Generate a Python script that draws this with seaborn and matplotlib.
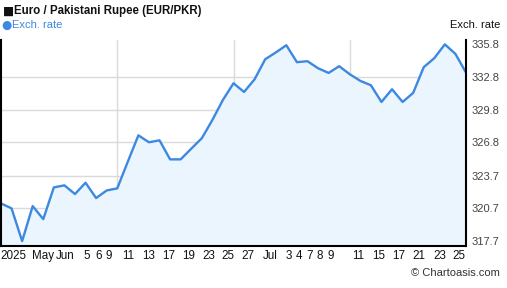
import matplotlib
matplotlib.use("Agg")
import matplotlib.pyplot as plt
import seaborn as sns
import numpy as np
import pandas as pd

rates = [321.17, 320.71, 317.70, 320.92, 319.72, 322.64, 322.83, 322.03, 323.07, 321.66,
         322.36, 322.55, 325.01, 327.43, 326.79, 326.97, 325.22, 325.22, 326.20, 327.16,
         328.84, 330.69, 332.22, 331.42, 332.59, 334.43, 335.05, 335.72, 334.16, 334.25,
         333.60, 333.17, 333.79, 333.05, 332.44, 332.04, 330.50, 331.67, 330.50, 331.33,
         333.70, 334.53, 335.80, 334.92, 333.20]
day_index = list(range(len(rates)))

x_tick_labels = ["2025", "May", "Jun", "5", "6", "9", "11", "13", "17", "19", "23", "25",
                 "27", "Jul", "3", "4", "7", "8", "9", "11", "15", "17", "21", "23", "25"]
x_tick_pos = [1.2, 4.0, 6.05, 8.15, 9.2, 10.15, 12.05, 13.95, 15.85, 17.75, 19.65, 21.5,
              23.4, 25.45, 27.25, 28.2, 29.2, 30.2, 31.15, 33.85, 35.7, 37.6, 39.5, 41.5, 43.35]
y_ticks = [317.7, 320.7, 323.7, 326.8, 329.8, 332.8, 335.8]
y_tick_labels = ["317.7", "320.7", "323.7", "326.8", "329.8", "332.8", "335.8"]
v_grid = [11, 22, 33]

df = pd.DataFrame({"day": day_index, "rate": rates})

sns.set_style("white")
plt.rcParams["font.family"] = ["Liberation Sans", "DejaVu Sans"]

fig = plt.figure(figsize=(5.07, 2.88), dpi=100)
ax = fig.add_axes([1/507, 1 - 246/288, 465/507, 206/288])

line_color = "#3d88e0"
fill_color = "#ebf5fe"

ax.set_xlim(0, len(rates) - 1)
ax.set_ylim(317.25, 336.2)

for yt in y_ticks[1:-1]:
    ax.axhline(yt, color="#dadada", lw=1, zorder=0)
for xv in v_grid:
    ax.axvline(xv, color="#dadada", lw=1, zorder=0)

ax.fill_between(df["day"], df["rate"], 317.25, color=fill_color, zorder=1, lw=0)
sns.lineplot(data=df, x="day", y="rate", ax=ax, color=line_color, lw=1.7, zorder=2)

ax.set_xlabel("")
ax.set_ylabel("")
ax.yaxis.tick_right()
ax.set_yticks(y_ticks)
ax.set_yticklabels(y_tick_labels, fontsize=8, color="#444444")
ax.set_xticks(x_tick_pos)
ax.set_xticklabels(x_tick_labels, fontsize=8.4, color="#111111")
ax.tick_params(axis="both", length=0, pad=3)
ax.tick_params(axis="y", pad=4)

for side in ["left", "bottom", "right"]:
    ax.spines[side].set_visible(True)
    ax.spines[side].set_color("black")
    ax.spines[side].set_linewidth(1.5)
ax.spines["top"].set_visible(False)

fig.text(3/507, 1 - 11/288, "■", fontsize=8.5, color="#111111", va="center", ha="left",
         family=["DejaVu Sans"])
fig.text(14/507, 1 - 11/288, "Euro / Pakistani Rupee (EUR/PKR)", fontsize=8.3,
         fontweight="bold", color="#111111", va="center", ha="left")
fig.text(1/507, 1 - 25/288, "●", fontsize=8.5, color=line_color, va="center", ha="left",
         family=["DejaVu Sans"])
fig.text(12/507, 1 - 25/288, "Exch. rate", fontsize=8, color=line_color, va="center", ha="left")
fig.text(500/507, 1 - 25/288, "Exch. rate", fontsize=8, color="#111111", va="center", ha="right")
fig.text(500/507, 1 - 273/288, "© Chartoasis.com", fontsize=8, color="#333333", va="center", ha="right")

fig.savefig("out.png", dpi=100)
